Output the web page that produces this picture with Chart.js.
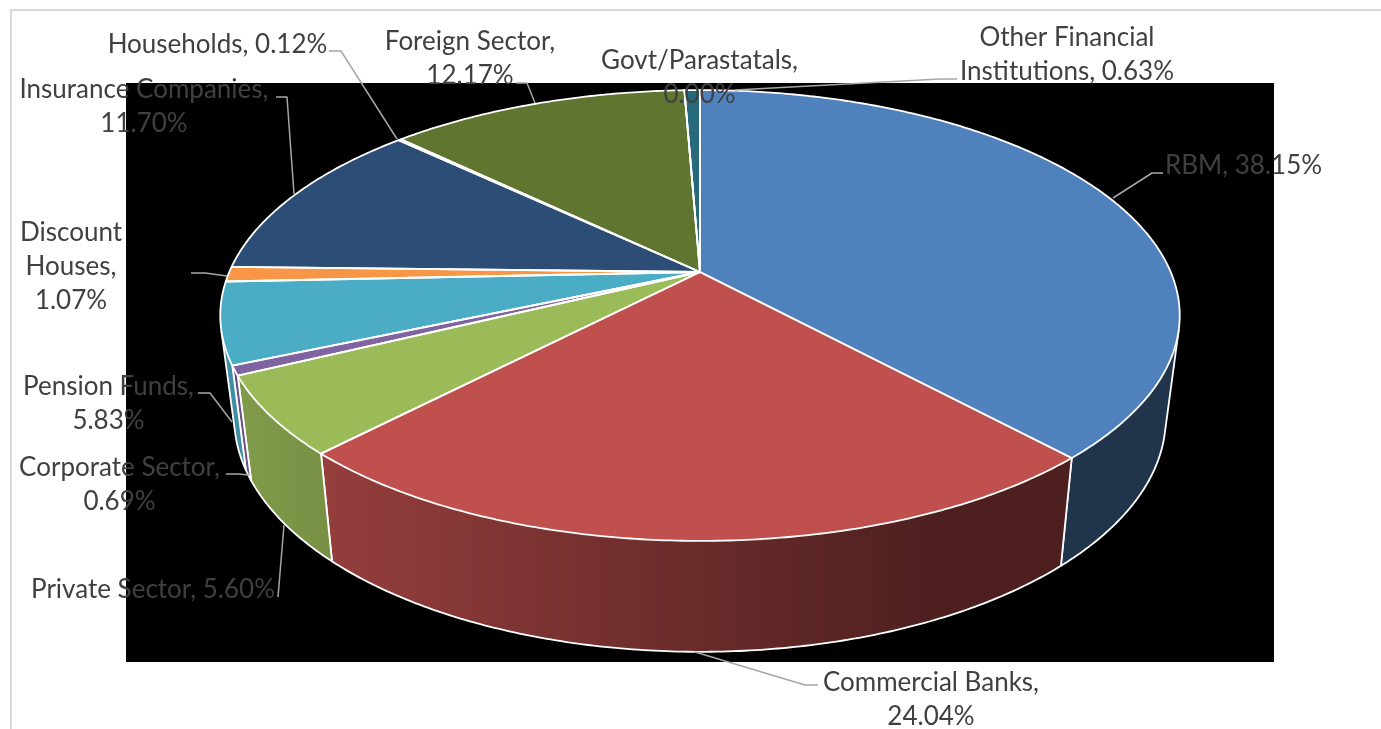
<!DOCTYPE html>
<html>
<head>
<meta charset="utf-8">
<style>
  html, body { margin: 0; padding: 0; background: #fff; overflow: hidden; }
  #wrap { position: relative; width: 1381px; height: 729px; }
</style>
<script src="https://cdn.jsdelivr.net/npm/chart.js@4/dist/chart.umd.min.js"></script>
</head>
<body>
<div id="wrap"><canvas id="chart" width="1381" height="729"></canvas></div>
<script>
const categories = ['RBM', 'Commercial Banks', 'Private Sector', 'Corporate Sector', 'Pension Funds',
  'Discount Houses', 'Insurance Companies', 'Households', 'Foreign Sector', 'Govt/Parastatals',
  'Other Financial Institutions'];
const shares = [38.15, 24.04, 5.60, 0.69, 5.83, 1.07, 11.70, 0.12, 12.17, 0.00, 0.63];
const sliceColors = ['#4f81bd', '#c0504d', '#9bbb59', '#8064a2', '#4bacc6', '#f79646',
  '#2c4d75', '#772c2a', '#5f7530', '#4d3b62', '#276a7c'];

// Words per line, text anchor and leader polyline for each callout.
const callouts = [
  { lines: [2],       x: 1243.5, y: 174, leader: [[1163,173],[1152,173],[1113,198]] },
  { lines: [2, 1],    x: 931,  y: 691, leader: [[818,685],[805,685],[695,652]] },
  { lines: [3],       x: 153,  y: 598, leader: [[278,597],[284,525]] },
  { lines: [2, 1],    x: 119.5,y: 476, leader: [[226,474],[238,474],[249,475]] },
  { lines: [2, 1],    x: 108.5,y: 395, leader: [[198,393],[210,393],[232,422]] },
  { lines: [1, 1, 1], x: 71,   y: 241, leader: [[191,273],[205,273],[227,276]] },
  { lines: [2, 1],    x: 144,  y: 98,  leader: [[276,97],[287,97],[294,194]] },
  { lines: [2],       x: 217.5,y: 53,  leader: [[329,51],[341,51],[397,139]] },
  { lines: [2, 1],    x: 470,  y: 50,  leader: [[516,83],[527,83],[535,103]] },
  { lines: [1, 1],    x: 699.5,y: 69,  leader: [] },
  { lines: [2, 2],    x: 1067, y: 46,  leader: [[957,79],[940,79],[735,90]] }
];

const FONT = '26px Lato, Carlito, Calibri, sans-serif';
const TEXT_COLOR = '#404040';
const LEADER_COLOR = '#a6a6a6';

// Perspective mapping of the unit disc on to the top and bottom faces of the drum.
const TILT = 0.193;
const CENTER_X = 700;
const topFace = { a: 470.7, b: 217, y0: 272 };
const bottomFace = { a: 457, b: 225, y0: 373 };

function project(face, angle) {
  const u = Math.cos(angle), v = Math.sin(angle);
  const d = 1 - TILT * v;
  return [CENTER_X + face.a * u / d, face.y0 + face.b * v / d];
}

function shade(hex, f) {
  const n = parseInt(hex.slice(1), 16);
  return `rgb(${Math.round((n >> 16 & 255) * f)},${Math.round((n >> 8 & 255) * f)},${Math.round((n & 255) * f)})`;
}

function wallFacesViewer(angle) {
  const e = 1e-3;
  const p0 = project(topFace, angle - e), p1 = project(topFace, angle + e);
  const p = project(topFace, angle), q = project(bottomFace, angle);
  const tx = p1[0] - p0[0], ty = p1[1] - p0[1];
  const dx = q[0] - p[0], dy = q[1] - p[1];
  return tx * dy - ty * dx < 0;
}

function traceFace(ctx, start, end) {
  ctx.moveTo(CENTER_X, topFace.y0);
  const n = Math.max(2, Math.ceil((end - start) / 0.01));
  for (let i = 0; i <= n; i++) {
    const pt = project(topFace, start + (end - start) * i / n);
    ctx.lineTo(pt[0], pt[1]);
  }
  ctx.closePath();
}

// Side walls darken from left to right, then stay flat past three quarters of the width.
function wallGradient(ctx, color) {
  const g = ctx.createLinearGradient(220, 0, 1180, 0);
  g.addColorStop(0, shade(color, 0.84));
  g.addColorStop(0.745, shade(color, 0.4));
  g.addColorStop(1, shade(color, 0.4));
  return g;
}

function drawWall(ctx, arc) {
  const n = Math.max(2, Math.ceil((arc.endAngle - arc.startAngle) / 0.01));
  const run = [];
  for (let i = 0; i <= n; i++) {
    const t = arc.startAngle + (arc.endAngle - arc.startAngle) * i / n;
    if (wallFacesViewer(t)) run.push(t);
  }
  if (run.length < 2) return;

  ctx.beginPath();
  run.forEach((t, i) => {
    const p = project(topFace, t);
    i ? ctx.lineTo(p[0], p[1]) : ctx.moveTo(p[0], p[1]);
  });
  [...run].reverse().forEach(t => {
    const q = project(bottomFace, t);
    ctx.lineTo(q[0], q[1]);
  });
  ctx.closePath();
  ctx.fillStyle = wallGradient(ctx, arc.options.backgroundColor);
  ctx.fill();

  ctx.strokeStyle = '#ffffff';
  ctx.lineWidth = 1.8;
  ctx.beginPath();
  const first = project(topFace, run[0]);
  ctx.moveTo(first[0], first[1]);
  run.forEach(t => { const q = project(bottomFace, t); ctx.lineTo(q[0], q[1]); });
  const last = project(topFace, run[run.length - 1]);
  ctx.lineTo(last[0], last[1]);
  ctx.stroke();
}

const drum = {
  id: 'drum',
  beforeDraw(chart) {
    const ctx = chart.ctx;
    ctx.save();
    ctx.fillStyle = '#ffffff';
    ctx.fillRect(0, 0, chart.width, chart.height);
    ctx.strokeStyle = '#d9d9d9';
    ctx.lineWidth = 2;
    ctx.beginPath();
    ctx.moveTo(11, 740); ctx.lineTo(11, 10); ctx.lineTo(1381, 10);
    ctx.stroke();
    ctx.fillStyle = '#000000';
    ctx.fillRect(126, 83, 1148, 579);
    ctx.restore();
  },
  // The slices get their angles from the pie controller but are painted in perspective below.
  beforeDatasetDraw() { return false; },
  afterDatasetsDraw(chart) {
    const ctx = chart.ctx;
    const arcs = chart.getDatasetMeta(0).data;
    ctx.save();
    ctx.lineJoin = 'round';
    arcs.forEach(arc => drawWall(ctx, arc));
    arcs.forEach(arc => {
      ctx.beginPath();
      traceFace(ctx, arc.startAngle, arc.endAngle);
      ctx.fillStyle = arc.options.backgroundColor;
      ctx.fill();
    });
    arcs.forEach(arc => {
      ctx.beginPath();
      traceFace(ctx, arc.startAngle, arc.endAngle);
      ctx.strokeStyle = '#ffffff';
      ctx.lineWidth = 1.8;
      ctx.stroke();
    });

    ctx.strokeStyle = LEADER_COLOR;
    ctx.lineWidth = 1.5;
    callouts.forEach(c => {
      if (!c.leader.length) return;
      ctx.beginPath();
      c.leader.forEach((p, i) => i ? ctx.lineTo(p[0], p[1]) : ctx.moveTo(p[0], p[1]));
      ctx.stroke();
    });

    ctx.font = FONT;
    ctx.fillStyle = TEXT_COLOR;
    ctx.textAlign = 'center';
    ctx.textBaseline = 'alphabetic';
    callouts.forEach((c, i) => {
      const words = `${categories[i]}, ${shares[i].toFixed(2)}%`.split(' ');
      let w = 0;
      c.lines.forEach((count, line) => {
        ctx.fillText(words.slice(w, w + count).join(' '), c.x, c.y + line * 34);
        w += count;
      });
    });
    ctx.restore();
  }
};

new Chart(document.getElementById('chart'), {
  type: 'pie',
  data: {
    labels: categories,
    datasets: [{ data: shares, backgroundColor: sliceColors }]
  },
  options: {
    responsive: false,
    animation: false,
    plugins: { legend: { display: false }, tooltip: { enabled: false } }
  },
  plugins: [drum]
});
</script>
</body>
</html>
